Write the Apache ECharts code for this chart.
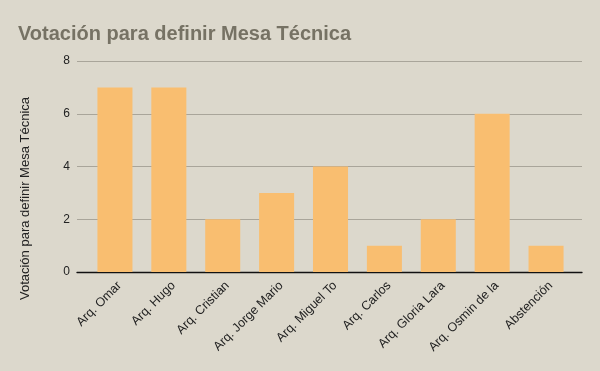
<!DOCTYPE html>
<html><head><meta charset="utf-8">
<script src="https://cdn.jsdelivr.net/npm/echarts@6/dist/echarts.min.js"></script>
<style>html,body{margin:0;padding:0;background:#dcd8cc}#c{width:600px;height:371px}</style>
</head><body><div id="c"></div>
<script>
const categories = ["Arq. Omar","Arq. Hugo","Arq. Cristian","Arq. Jorge Mario","Arq. Miguel To","Arq. Carlos","Arq. Gloria Lara","Arq. Osmin de la","Abstención"];
const votes = [7,7,2,3,4,1,2,6,1];
const yTicks = [0,2,4,6,8];
const yName = 'Votación para definir Mesa Técnica';
const F = 'Liberation Sans, Arial';
const chart = echarts.init(document.getElementById('c'));
chart.setOption({
  backgroundColor:'#dcd8cc',
  animation:false,
  title:{text:'Votación para definir Mesa Técnica',left:13,top:19,textStyle:{fontFamily:F,fontSize:20,fontWeight:'bold',color:'#767264'}},
  graphic:[{type:'text',left:19,top:97,rotation:Math.PI/2,
    style:{text:yName,font:'13px '+F,fill:'#222'}}],
  grid:[{left:77,right:18,top:61,bottom:99},{left:88,right:27,top:61,bottom:99}],
  xAxis:[
    {gridIndex:0,type:'value',min:0,max:1,axisLine:{show:true,onZero:false,lineStyle:{color:'#111',width:1.3}},axisTick:{show:false},axisLabel:{show:false},splitLine:{show:false}},
    {gridIndex:1,type:'category',data:categories,
    axisLine:{show:false},axisTick:{show:false},
    axisLabel:{rotate:45,interval:0,fontFamily:F,fontSize:12.5,color:'#222',margin:7,verticalAlign:'top'}}],
  yAxis:[
    {gridIndex:0,type:'value',min:yTicks[0],max:yTicks[yTicks.length-1],interval:2,
    axisLine:{show:false},axisTick:{show:false},
    axisLabel:{fontFamily:F,fontSize:12,color:'#222',margin:7},
    splitLine:{lineStyle:{color:'#a9a59a',width:1}}},
    {gridIndex:1,type:'value',min:yTicks[0],max:yTicks[yTicks.length-1],interval:2,show:false,splitLine:{show:false}}],
  series:[{type:'bar',xAxisIndex:1,yAxisIndex:1,data:votes,barWidth:'65%',itemStyle:{color:'#f9be70'}}]
});
</script></body></html>
